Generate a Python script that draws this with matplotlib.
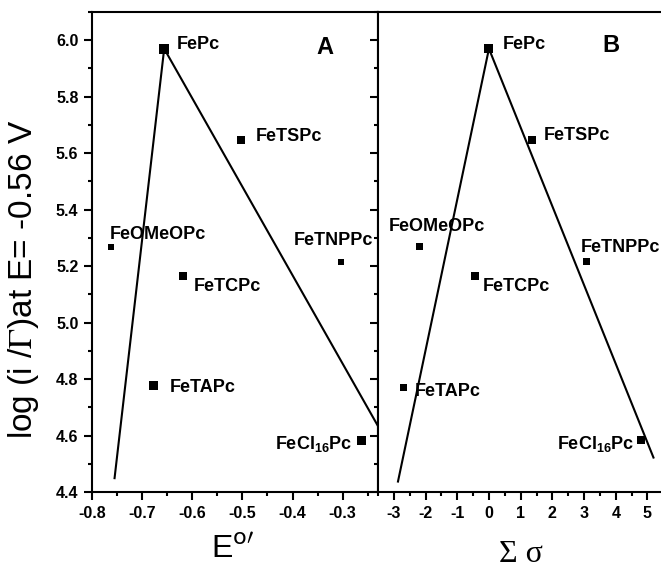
import matplotlib
matplotlib.use("Agg")
import matplotlib.pyplot as plt
from matplotlib.ticker import MultipleLocator

plt.rcParams['font.family'] = ['Liberation Sans', 'DejaVu Sans']
plt.rcParams['mathtext.fontset'] = 'custom'
plt.rcParams['mathtext.rm'] = 'Liberation Sans'
plt.rcParams['mathtext.bf'] = 'Liberation Sans:bold'

# ---------------- data ----------------
names = ["FePc", "FeTSPc", "FeOMeOPc", "FeTNPPc", "FeTCPc", "FeTAPc", "FeCl16Pc"]
labels = ["FePc", "FeTSPc", "FeOMeOPc", "FeTNPPc", "FeTCPc", "FeTAPc",
          r"FeCl$_{\mathbf{16}}$Pc"]
log_rate = [5.97, 5.648, 5.268, 5.215, 5.166, 4.776, 4.584]
log_rate_B = [5.97, 5.648, 5.268, 5.215, 5.166, 4.77, 4.583]
E0 = [-0.656, -0.503, -0.763, -0.303, -0.618, -0.678, -0.262]
sigma = [-0.02, 1.37, -2.19, 3.09, -0.45, -2.69, 4.79]

# volcano fit lines (endpoints)
fitA_left_x = [-0.755, -0.656]
fitA_left_y = [4.449, 5.97]
fitA_right_x = [-0.656, -0.23]
fitA_right_y = [5.97, 4.635]
fitB_left_x = [-2.87, 0.0]
fitB_left_y = [4.437, 5.97]
fitB_right_x = [0.0, 5.19]
fitB_right_y = [5.97, 4.522]

# ---------------- styles ----------------
size_px_A = [10, 8, 6, 6, 8, 9, 9]
size_px_B = [9, 8, 7, 7, 8, 7, 8]
# label offsets in pixels (dx, dy) and horizontal alignment
offA = [(13, 4, 'left'), (15, 3, 'left'), (-1, 12, 'left'), (32, 21, 'right'),
        (11, -11, 'left'), (17, -2, 'left'), (-9, -3, 'right')]
offB = [(14, 4, 'left'), (11, 4, 'left'), (-31, 20, 'left'), (-6, 14, 'left'),
        (8, -11, 'left'), (11, -4, 'left'), (-7, -3, 'right')]

W, H = 661, 571
fig = plt.figure(figsize=(W / 100, H / 100), dpi=100)
axA = fig.add_axes([92 / W, 79 / H, 286 / W, 480 / H])
axB = fig.add_axes([378 / W, 79 / H, 285.3 / W, 480 / H])

LW = 1.5
TICK_FS = 11.5
LAB_FS = 13
for ax in (axA, axB):
    for s in ax.spines.values():
        s.set_linewidth(LW)
    ax.set_ylim(4.4, 6.1)
    ax.yaxis.set_major_locator(MultipleLocator(0.2))
    ax.yaxis.set_minor_locator(MultipleLocator(0.1))
    ax.tick_params(which='major', direction='out', length=5.8, width=LW,
                   top=False, right=False, labelsize=TICK_FS, pad=4)
    ax.tick_params(which='minor', direction='out', length=3, width=LW,
                   top=False, right=False)

# Panel A
axA.set_xlim(-0.8, -0.2295)
axA.xaxis.set_major_locator(MultipleLocator(0.1))
axA.xaxis.set_minor_locator(MultipleLocator(0.05))
axA.plot(fitA_left_x, fitA_left_y, color='black', lw=1.5)
axA.plot(fitA_right_x, fitA_right_y, color='black', lw=1.5)
axA.scatter(E0, log_rate, marker='s', color='black',
            s=[(p * 0.72) ** 2 for p in size_px_A], zorder=3, linewidths=0)
for x, y, lab, (dx, dy, ha) in zip(E0, log_rate, labels, offA):
    va = 'baseline' if 'Cl' in lab else 'center'
    if va == 'baseline':
        dy -= 6
    axA.annotate(lab, (x, y), xytext=(dx, dy), textcoords='offset pixels',
                 ha=ha, va=va, fontsize=LAB_FS, fontweight='bold')
axA.text(0.815, 0.925, "A", transform=axA.transAxes, ha='center', va='center',
         fontsize=17, fontweight='bold')
axA.set_xticks(axA.get_xticks())
axA.set_xticklabels([f"{v:.1f}" for v in axA.get_xticks()], fontweight='bold')
axA.set_xlim(-0.8, -0.2295)
axA.set_yticks(axA.get_yticks())
axA.set_yticklabels([f"{v:.1f}" for v in axA.get_yticks()], fontweight='bold')
axA.set_ylim(4.4, 6.1)

# Panel B
axB.set_xlim(-3.5, 5.5)
axB.xaxis.set_major_locator(MultipleLocator(1))
axB.xaxis.set_minor_locator(MultipleLocator(0.5))
axB.tick_params(axis='y', which='both', labelleft=False)
axB.spines['right'].set_visible(False)
axB.plot(fitB_left_x, fitB_left_y, color='black', lw=1.5)
axB.plot(fitB_right_x, fitB_right_y, color='black', lw=1.5)
axB.scatter(sigma, log_rate_B, marker='s', color='black',
            s=[(p * 0.72) ** 2 for p in size_px_B], zorder=3, linewidths=0)
for x, y, lab, (dx, dy, ha) in zip(sigma, log_rate_B, labels, offB):
    va = 'baseline' if 'Cl' in lab else 'center'
    if va == 'baseline':
        dy -= 6
    axB.annotate(lab, (x, y), xytext=(dx, dy), textcoords='offset pixels',
                 ha=ha, va=va, fontsize=LAB_FS, fontweight='bold')
axB.text(0.816, 0.931, "B", transform=axB.transAxes, ha='center', va='center',
         fontsize=17, fontweight='bold')
axB.set_xticks(axB.get_xticks())
axB.set_xticklabels([f"{v:.0f}" for v in axB.get_xticks()], fontweight='bold')
axB.set_xlim(-3.5, 5.5)

# axis titles
fig.text(24 / W, 1 - 279 / H, r"log (i /$\Gamma$)at E= -0.56 V", rotation=90,
         ha='center', va='center', fontsize=24, math_fontfamily='stix')
fig.text(233 / W, 1 - 550 / H, r"E$^{\mathrm{o}\prime}$", ha='center',
         va='center', fontsize=23, math_fontfamily='dejavusans')
fig.text(521 / W, 1 - 555 / H, "Σ σ", ha='center', va='center', fontsize=23,
         family=['Liberation Serif', 'DejaVu Serif'])

fig.savefig("out.png", dpi=100)
